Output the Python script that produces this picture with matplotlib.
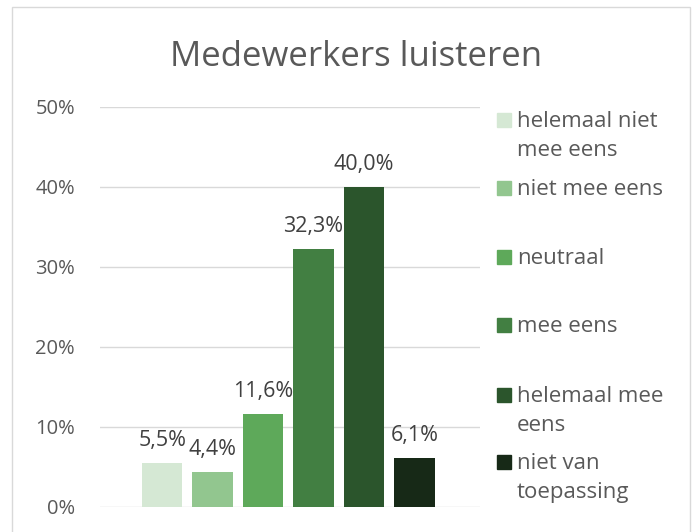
import matplotlib.pyplot as plt
from matplotlib.patches import Rectangle

categories = ['helemaal niet\nmee eens', 'niet mee eens', 'neutraal', 'mee eens',
              'helemaal mee\neens', 'niet van\ntoepassing']
values = [0.055, 0.044, 0.116, 0.323, 0.400, 0.061]
labels = ['5,5%', '4,4%', '11,6%', '32,3%', '40,0%', '6,1%']
colors = ['#D5E8D4', '#92C68F', '#5EA95A', '#427F42', '#2B552C', '#172917']
yticks = [0, 0.1, 0.2, 0.3, 0.4, 0.5]
ytick_labels = ['0%', '10%', '20%', '30%', '40%', '50%']

plt.rcParams['font.family'] = ['Open Sans', 'DejaVu Sans']
text_col = '#595959'

fig = plt.figure(figsize=(7, 5.32), dpi=100)
ax = fig.add_axes([0.143, 0.047, 0.543, 0.752])

x = list(range(len(values)))
ax.bar(x, values, width=0.8, color=colors, zorder=3)
for xi, v, lab in zip(x, values, labels):
    ax.text(xi, v + 0.015, lab, ha='center', va='bottom', fontsize=15.5, color='#404040')

ax.set_xlim(-1.23, 6.3)
ax.set_ylim(0, 0.5)
ax.set_yticks(yticks)
ax.set_yticklabels(ytick_labels, fontsize=14.5, color=text_col)
ax.set_xticks([])
ax.grid(axis='y', color='#D9D9D9', lw=1, zorder=0)
for s in ax.spines.values():
    s.set_visible(False)
ax.tick_params(axis='y', length=0, pad=18)

fig.text(0.509, 0.892, 'Medewerkers luisteren', ha='center', va='center',
         fontsize=25, color=text_col)

# legend, placed by hand
leg_y = [120, 188, 257, 325, 395, 462]
for ly, cat, c in zip(leg_y, categories, colors):
    fig.add_artist(Rectangle((497 / 700, 1 - (ly + 7) / 532), 14 / 700, 14 / 532,
                             transform=fig.transFigure, color=c))
    fig.text(517 / 700, 1 - (ly - 9) / 532, cat, ha='left', va='top',
             fontsize=16, color=text_col, linespacing=1.5)

fig.add_artist(Rectangle((12 / 700, -0.05), 678 / 700, 1 - 7 / 532 + 0.05,
                         transform=fig.transFigure, fill=False,
                         edgecolor='#D9D9D9', lw=1))

fig.savefig('out.png', dpi=100)
